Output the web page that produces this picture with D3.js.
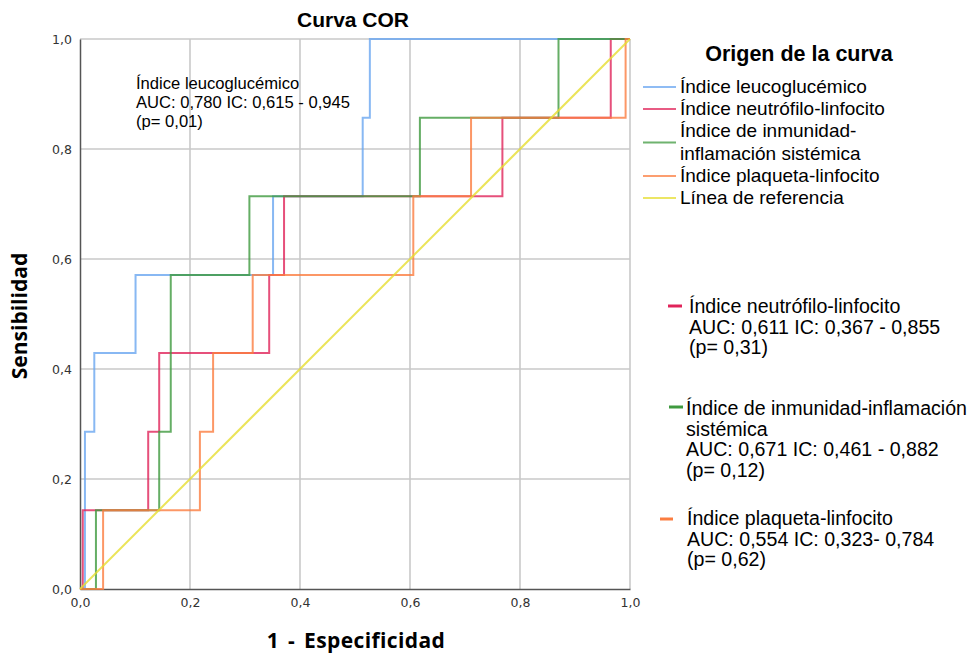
<!DOCTYPE html>
<html>
<head>
<meta charset="utf-8">
<script src="https://cdn.jsdelivr.net/npm/d3@7"></script>
<style>
  html, body { margin: 0; padding: 0; background: #fff; }
  svg { display: block; }
</style>
</head>
<body>
<svg id="chart" width="973" height="656"></svg>
<script>
// ROC step curves: [1 - especificidad, sensibilidad] vertices
const leucoglucemico = [
  [0, 0], [0.009, 0], [0.009, 0.286], [0.026, 0.286], [0.026, 0.429],
  [0.101, 0.429], [0.101, 0.571], [0.351, 0.571], [0.351, 0.714],
  [0.514, 0.714], [0.514, 0.857], [0.527, 0.857], [0.527, 1], [1, 1]
];
const neutrofiloLinfocito = [
  [0, 0], [0.005, 0], [0.005, 0.143], [0.124, 0.143], [0.124, 0.286],
  [0.144, 0.286], [0.144, 0.429], [0.344, 0.429], [0.344, 0.571],
  [0.371, 0.571], [0.371, 0.714], [0.768, 0.714], [0.768, 0.857],
  [0.965, 0.857], [0.965, 1], [1, 1]
];
const inmunidadInflamacion = [
  [0, 0], [0.029, 0], [0.029, 0.143], [0.144, 0.143], [0.144, 0.286],
  [0.165, 0.286], [0.165, 0.571], [0.308, 0.571], [0.308, 0.714],
  [0.618, 0.714], [0.618, 0.857], [0.870, 0.857], [0.870, 1], [1, 1]
];
const plaquetaLinfocito = [
  [0, 0], [0.042, 0], [0.042, 0.143], [0.218, 0.143], [0.218, 0.286],
  [0.242, 0.286], [0.242, 0.429], [0.314, 0.429], [0.314, 0.571],
  [0.606, 0.571], [0.606, 0.714], [0.711, 0.714], [0.711, 0.857],
  [0.992, 0.857], [0.992, 1], [1, 1]
];
const referencia = [[0, 0], [1, 1]];

const tickValues = [0, 0.2, 0.4, 0.6, 0.8, 1.0];
const tickLabels = ["0,0", "0,2", "0,4", "0,6", "0,8", "1,0"];

const seriesNames = [
  "Índice leucoglucémico",
  "Índice neutrófilo-linfocito",
  "Índice de inmunidad-inflamación sistémica",
  "Índice plaqueta-linfocito",
  "Línea de referencia"
];
const seriesColors = ["#6aa6f0", "#e0245a", "#3f9a3f", "#fb7d40", "#e6dd30"];
const seriesData = [leucoglucemico, neutrofiloLinfocito, inmunidadInflamacion, plaquetaLinfocito, referencia];

const aucTexts = [
  ["Índice leucoglucémico", "AUC: 0,780 IC: 0,615 - 0,945", "(p= 0,01)"],
  ["Índice neutrófilo-linfocito", "AUC: 0,611 IC: 0,367 - 0,855", "(p= 0,31)"],
  ["Índice de inmunidad-inflamación", "sistémica", "AUC: 0,671 IC: 0,461 - 0,882", "(p= 0,12)"],
  ["Índice plaqueta-linfocito", "AUC: 0,554 IC: 0,323- 0,784", "(p= 0,62)"]
];

const svg = d3.select("#chart");
const x = d3.scaleLinear().domain([0, 1]).range([80, 630]);
const y = d3.scaleLinear().domain([0, 1]).range([589, 39]);

const sans = "'Liberation Sans', Arial, sans-serif";

// grid
const grid = svg.append("g");
grid.selectAll("line.v").data(tickValues.slice(1)).join("line")
  .attr("x1", d => x(d)).attr("x2", d => x(d))
  .attr("y1", y(0)).attr("y2", y(1))
  .attr("stroke", "#c9c9c9").attr("stroke-width", 1.6);
grid.selectAll("line.h").data(tickValues.slice(1)).join("line")
  .attr("x1", x(0)).attr("x2", x(1))
  .attr("y1", d => y(d)).attr("y2", d => y(d))
  .attr("stroke", "#c9c9c9").attr("stroke-width", 1.6);

// axes
const xAxis = d3.axisBottom(x).tickValues(tickValues).tickFormat((d, i) => tickLabels[i]).tickSize(0).tickPadding(9);
const yAxis = d3.axisLeft(y).tickValues(tickValues).tickFormat((d, i) => tickLabels[i]).tickSize(0).tickPadding(8);
const gx = svg.append("g").attr("transform", `translate(0,${y(0)})`).call(xAxis);
const gy = svg.append("g").attr("transform", `translate(${x(0)},0)`).call(yAxis);
[gx, gy].forEach(g => {
  g.select(".domain").attr("stroke", "#555").attr("stroke-width", 1.5);
  g.selectAll("text").attr("font-family", "'DejaVu Sans', Verdana, sans-serif")
    .attr("font-size", 12.5).attr("fill", "#333");
});

// curves
const line = d3.line().x(d => x(d[0])).y(d => y(d[1]));
svg.append("g").selectAll("path").data(seriesData).join("path")
  .attr("d", d => line(d))
  .attr("fill", "none")
  .attr("stroke", (d, i) => seriesColors[i])
  .attr("stroke-width", 2)
  .attr("stroke-opacity", 0.8)
  .attr("stroke-linejoin", "miter");

// titles
svg.append("text").attr("x", 353).attr("y", 27).attr("text-anchor", "middle")
  .attr("font-family", sans).attr("font-weight", "bold").attr("font-size", 21)
  .text("Curva COR");
svg.append("text").attr("x", 356).attr("y", 648).attr("text-anchor", "middle")
  .attr("font-family", "'Open Sans', sans-serif").attr("font-weight", "bold").attr("font-size", 21)
  .attr("word-spacing", 3).attr("letter-spacing", 0.4)
  .text("1 - Especificidad");
svg.append("text").attr("transform", "translate(27,316) rotate(-90)").attr("text-anchor", "middle")
  .attr("font-family", "'Open Sans', sans-serif").attr("font-weight", "bold").attr("font-size", 21)
  .text("Sensibilidad");

// legend
const lg = svg.append("g");
lg.append("text").attr("x", 799).attr("y", 61).attr("text-anchor", "middle")
  .attr("font-family", sans).attr("font-weight", "bold").attr("font-size", 21.5)
  .text("Origen de la curva");
const legendRows = [
  { lines: ["Índice leucoglucémico"], y: 93 },
  { lines: ["Índice neutrófilo-linfocito"], y: 115 },
  { lines: ["Índice de inmunidad-", "inflamación sistémica"], y: 137 },
  { lines: ["Índice plaqueta-linfocito"], y: 182 },
  { lines: ["Línea de referencia"], y: 204 }
];
legendRows.forEach((r, i) => {
  const swY = r.y - 6 + (r.lines.length - 1) * 11.5;
  lg.append("line").attr("x1", 643).attr("x2", 676).attr("y1", swY).attr("y2", swY)
    .attr("stroke", seriesColors[i]).attr("stroke-width", 2).attr("stroke-opacity", 0.75);
  r.lines.forEach((t, k) => {
    lg.append("text").attr("x", 680).attr("y", r.y + k * 22.5)
      .attr("font-family", sans).attr("font-size", 19).text(t);
  });
});

// AUC annotations
const ann = svg.append("g").attr("font-family", sans);
aucTexts[0].forEach((t, k) => {
  ann.append("text").attr("x", 136).attr("y", 88.5 + k * 19).attr("font-size", 16.6).text(t);
});
const sideBlocks = [
  { idx: 1, y: 313, sx1: 668, sx2: 682, tx: 689, sy: 306 },
  { idx: 2, y: 415, sx1: 669, sx2: 683, tx: 686, sy: 407 },
  { idx: 3, y: 525, sx1: 660, sx2: 673, tx: 687, sy: 519 }
];
sideBlocks.forEach(b => {
  ann.append("line").attr("x1", b.sx1).attr("x2", b.sx2).attr("y1", b.sy).attr("y2", b.sy)
    .attr("stroke", seriesColors[b.idx]).attr("stroke-width", 3);
  aucTexts[b.idx].forEach((t, k) => {
    ann.append("text").attr("x", b.tx).attr("y", b.y + k * 20.5).attr("font-size", 19.6).text(t);
  });
});
</script>
</body>
</html>
